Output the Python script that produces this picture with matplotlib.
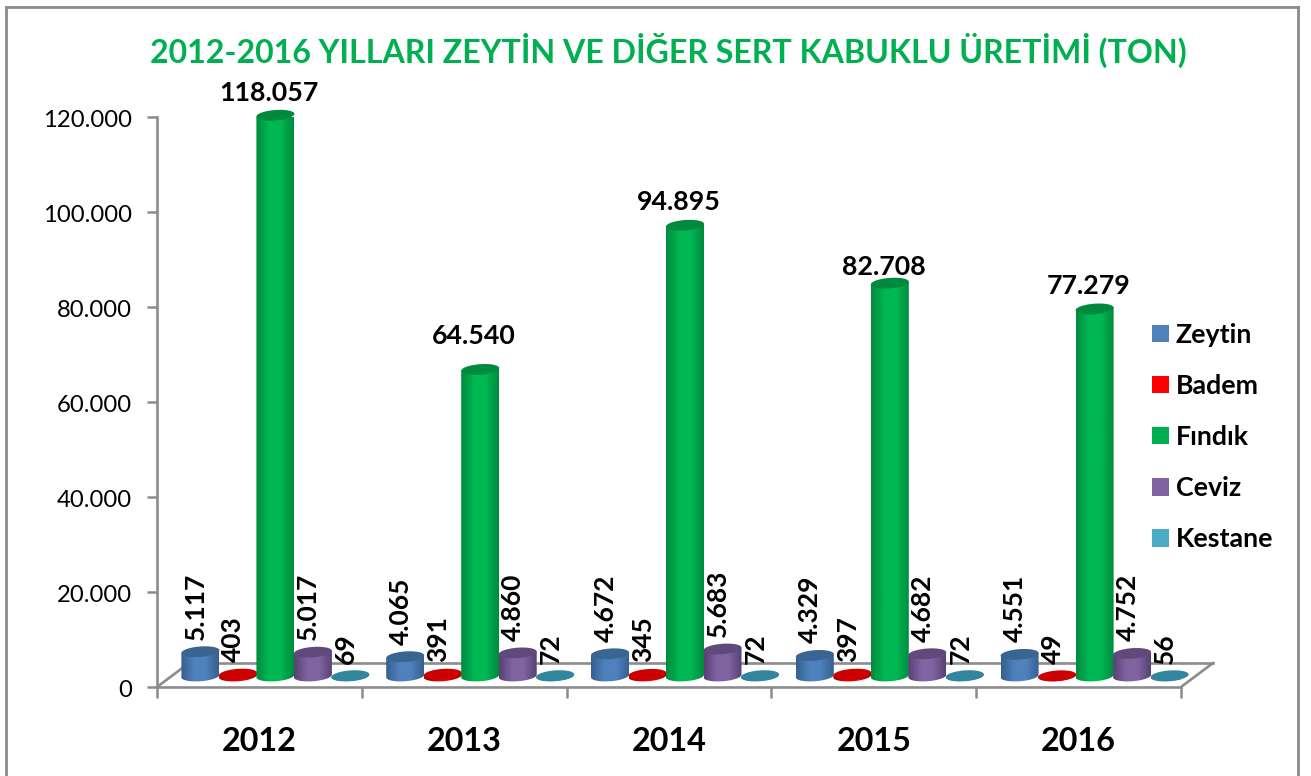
import numpy as np
import matplotlib
matplotlib.use("Agg")
import matplotlib.pyplot as plt
from matplotlib.colors import LinearSegmentedColormap
from matplotlib.patches import Patch, Polygon
from matplotlib.transforms import Affine2D

plt.rcParams['font.family'] = ['Lato', 'DejaVu Sans']

# ---- data ----
years = ['2012', '2013', '2014', '2015', '2016']
series_names = ['Zeytin', 'Badem', 'Fındık', 'Ceviz', 'Kestane']
zeytin = [5117, 4065, 4672, 4329, 4551]
badem = [403, 391, 345, 397, 49]
findik = [118057, 64540, 94895, 82708, 77279]
ceviz = [5017, 4860, 5683, 4682, 4752]
kestane = [69, 72, 72, 72, 56]
y_ticks = [0, 20000, 40000, 60000, 80000, 100000, 120000]
y_tick_labels = ['0', '20.000', '40.000', '60.000', '80.000', '100.000', '120.000']
title = '2012-2016 YILLARI ZEYTİN VE DİĞER SERT KABUKLU ÜRETİMİ (TON)'

# ---- styles ----
legend_colors = ['#4f81bd', '#ff0000', '#00b050', '#8064a2', '#4bacc6']
edge_colors = ['#35608f', '#a00000', '#008a3e', '#574272', '#2b7388']
mid_colors = ['#4f81bd', '#e00000', '#00b853', '#8064a2', '#3a93ab']
top_colors = ['#3b6591', '#cc0000', '#008a3e', '#604a7b', '#31859c']
GREY = '#8c8c8c'
W, H = 1311, 776
L, R, B, T = 157, 1181, 687, 117
green_label_gap = [22, 33, 23, 16, 23]

fig = plt.figure(figsize=(W / 100, H / 100), dpi=100, facecolor='white')
ax = fig.add_axes([L / W, (H - B) / H, (R - L) / W, (B - T) / H])
ax.set_xlim(0, 5)
ax.set_ylim(0, 120000)
ax.patch.set_alpha(0)
for s in ['top', 'right']:
    ax.spines[s].set_visible(False)
for s in ['left', 'bottom']:
    ax.spines[s].set_color(GREY)
    ax.spines[s].set_linewidth(1.9)

ax.set_yticks(y_ticks, y_tick_labels, fontsize=17.2, color='black')
ax.tick_params(axis='y', length=7, width=1.8, color=GREY, pad=11)
for lab in ax.get_yticklabels():
    lab.set_transform(lab.get_transform() + Affine2D().translate(0, -1.5))
ax.set_xticks(range(6), [''] * 6)
ax.tick_params(axis='x', which='major', length=8, width=1.8, color=GREY)
ax.set_xticks(np.arange(5) + 0.5, years, minor=True, fontsize=23.3, fontweight='bold')
ax.tick_params(axis='x', which='minor', length=0, pad=29)

px_x = 5 / (R - L)
px_y = 120000 / (B - T)


def shifted(dx, dy):
    return ax.transData + Affine2D().translate(dx, dy)


# floor, behind bars
back = shifted(32, 24)
ax.plot([0, 5], [0, 0], transform=back, color=GREY, lw=1.9, zorder=1, clip_on=False)
ax.plot([0, 32 * px_x], [0, 24 * px_y], color=GREY, lw=1.9, zorder=1, clip_on=False)
ax.plot([5, 5 + 32 * px_x], [0, 24 * px_y], color=GREY, lw=1.9, zorder=1, clip_on=False)

bar_tr = shifted(16, 11)
BW = 38
EH = 10.5
TILT = 0.07
z = 2


def ellipse_pts(x, v, t):
    ex = np.cos(t) * BW / 2
    ey = np.sin(t) * EH / 2 + TILT * ex
    return x + ex * px_x, v + ey * px_y


all_series = [zeytin, badem, findik, ceviz, kestane]
for i in range(len(years)):
    for j, vals in enumerate(all_series):
        v = vals[i]
        x = i + 0.5 + (j - 2) * 37.5 * px_x
        cm = LinearSegmentedColormap.from_list(
            'c', [(0, edge_colors[j]), (0.35, mid_colors[j]), (0.65, mid_colors[j]), (1, edge_colors[j])])
        t = np.linspace(np.pi, 2 * np.pi, 40)
        bx, by = ellipse_pts(x, 0, t)
        hw = BW / 2 * px_x
        tilt_v = TILT * BW / 2 * px_y
        outline = np.vstack([[x - hw, v - tilt_v], np.column_stack([bx, by]), [x + hw, v + tilt_v]])
        clip = Polygon(outline, closed=True, transform=bar_tr, fc='none', ec='none', zorder=z)
        ax.add_patch(clip)
        im = ax.imshow(np.linspace(0, 1, 64)[None, :], cmap=cm, aspect='auto',
                       extent=[x - hw, x + hw, -12 * px_y, v + 5 * px_y],
                       transform=bar_tr, interpolation='bilinear', zorder=z)
        im.set_clip_path(clip)
        t2 = np.linspace(0, 2 * np.pi, 80)
        ex, ey = ellipse_pts(x, v, t2)
        ax.fill(ex, ey, color=top_colors[j], lw=0, transform=bar_tr, zorder=z + 0.5, clip_on=False)
        z += 1
        # value labels
        lab = f'{v:,}'.replace(',', '.')
        if j == 2:
            ax.annotate(lab, (x, v), xycoords=bar_tr, xytext=(-6 * 0.72, green_label_gap[i] * 0.72),
                        textcoords='offset points', ha='center', va='center',
                        fontsize=19.3, fontweight='bold', zorder=200, annotation_clip=False)
        else:
            ax.annotate(lab, (x, v), xycoords=bar_tr, xytext=(-4.5 * 0.72, 12 * 0.72),
                        textcoords='offset points', ha='center', va='bottom', rotation=90,
                        fontsize=19, fontweight='bold', zorder=200, annotation_clip=False)
ax.set_xlim(0, 5)
ax.set_ylim(0, 120000)

handles = [Patch(fc=c, ec='none') for c in legend_colors]
ax.legend(handles, series_names, loc='upper left', bbox_to_anchor=(1152 / W, 1 - 323 / H),
          bbox_transform=fig.transFigure, frameon=False, borderpad=0, borderaxespad=0,
          prop={'size': 19.3, 'weight': 'bold'}, handlelength=0.63, handleheight=0.63,
          handletextpad=0.25, labelspacing=1.01, labelcolor='black')

fig.text(668 / W, 1 - 50.5 / H, title, color='#00b050', fontsize=23.15, fontweight='bold',
         ha='center', va='center')

# outer frame
fr = dict(color=GREY, lw=2, transform=fig.transFigure)
fig.add_artist(plt.Line2D([6 / W, 6 / W], [0, 1 - 7 / H], **fr))
fig.add_artist(plt.Line2D([6 / W, 1298 / W], [1 - 7 / H, 1 - 7 / H], **fr))
fig.add_artist(plt.Line2D([1298 / W, 1298 / W], [0, 1 - 7 / H], **fr))

fig.savefig('out.png', dpi=100, facecolor='white')
